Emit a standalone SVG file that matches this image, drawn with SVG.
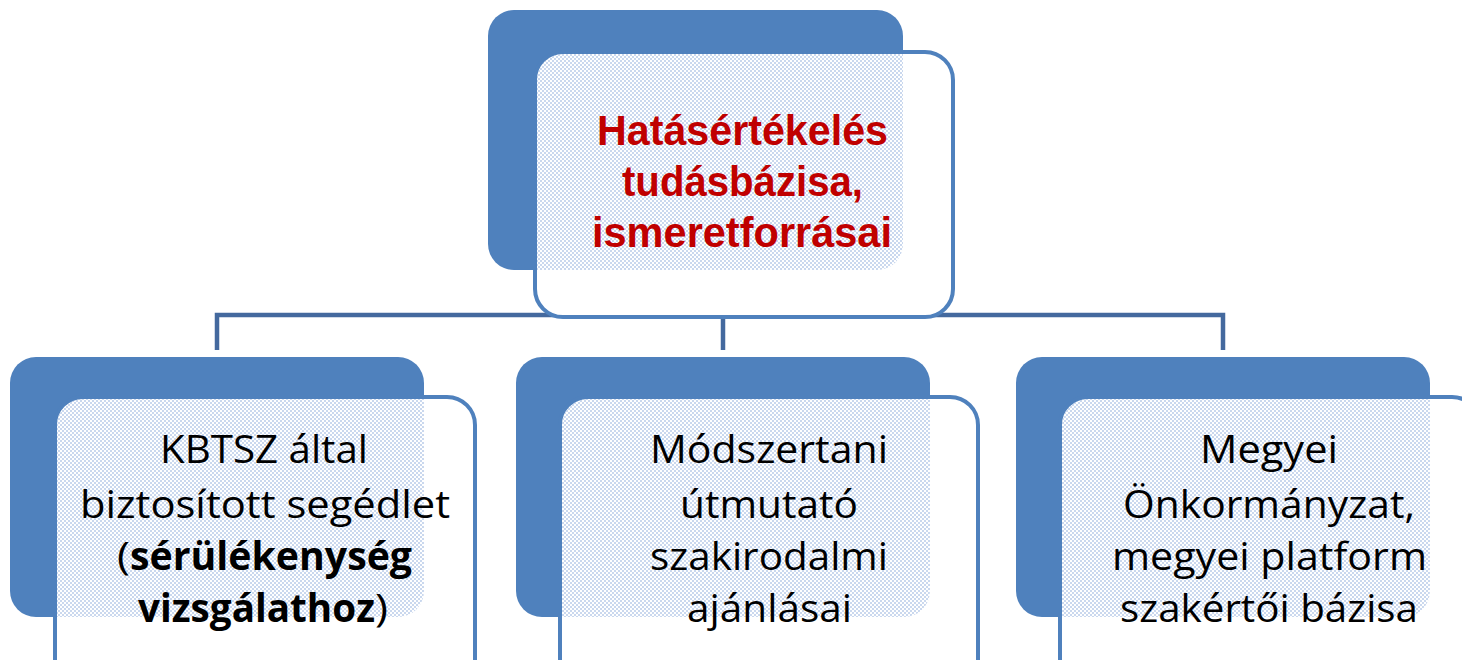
<svg xmlns="http://www.w3.org/2000/svg" width="1462" height="660" viewBox="0 0 1462 660">
<style>
.card{fill:#4f81bd}
.front{fill:#ffffff;stroke:#4f81bd;stroke-width:4}
.dots{fill:url(#dotpat)}
.conn{fill:none;stroke:#44699e;stroke-width:4.5}
.t{font-family:"Open Sans","Liberation Sans",Arial,sans-serif;font-size:39px;fill:#000000}
.b{font-weight:bold}
.title{font-family:"Liberation Sans",Arial,sans-serif;font-size:42px;font-weight:bold;fill:#c00000}
</style>
<defs>
<pattern id="dotpat" width="4" height="4" patternUnits="userSpaceOnUse">
<circle cx="1" cy="1" r="0.8" fill="#86a5d8"/>
<circle cx="3" cy="3" r="0.8" fill="#86a5d8"/>
</pattern>
<clipPath id="clipTop"><rect x="537" y="54" width="414" height="261" rx="26"/></clipPath>
<clipPath id="clipLeft"><rect x="57" y="399" width="416" height="296" rx="26"/></clipPath>
<clipPath id="clipMid"><rect x="562" y="399" width="414" height="296" rx="26"/></clipPath>
<clipPath id="clipRight"><rect x="1062" y="399" width="416" height="296" rx="26"/></clipPath>
</defs>

<g id="connectors">
<path class="conn" d="M217 350 V315 H1223 V350"/>
<path class="conn" d="M723 315 V350"/>
</g>

<g id="node-top">
<rect class="card" x="488" y="10" width="415" height="260" rx="26"/>
<rect class="front" x="535" y="52" width="418" height="265" rx="28"/>
<rect class="dots" x="488" y="10" width="415" height="260" rx="26" clip-path="url(#clipTop)"/>
<text class="title" x="742.5" y="145" text-anchor="middle" textLength="291" lengthAdjust="spacingAndGlyphs">Hatásértékelés</text>
<text class="title" x="742.5" y="196" text-anchor="middle" textLength="241" lengthAdjust="spacingAndGlyphs">tudásbázisa,</text>
<text class="title" x="742" y="247" text-anchor="middle" textLength="300" lengthAdjust="spacingAndGlyphs">ismeretforrásai</text>
</g>

<g id="node-left">
<rect class="card" x="10" y="357" width="414" height="260" rx="26"/>
<rect class="front" x="55" y="397" width="420" height="300" rx="28"/>
<rect class="dots" x="10" y="357" width="414" height="260" rx="26" clip-path="url(#clipLeft)"/>
<text class="t" x="264" y="463" text-anchor="middle" textLength="208" lengthAdjust="spacingAndGlyphs">KBTSZ által</text>
<text class="t" x="265" y="518" text-anchor="middle" textLength="370" lengthAdjust="spacingAndGlyphs">biztosított segédlet</text>
<text class="t" x="117" y="570" textLength="13" lengthAdjust="spacingAndGlyphs">(</text>
<text class="t b" x="130" y="570" textLength="282" lengthAdjust="spacingAndGlyphs">sérülékenység</text>
<text class="t b" x="138" y="622" textLength="237" lengthAdjust="spacingAndGlyphs">vizsgálathoz</text>
<text class="t" x="375" y="622" textLength="13" lengthAdjust="spacingAndGlyphs">)</text>
</g>

<g id="node-middle">
<rect class="card" x="516" y="357" width="414" height="260" rx="26"/>
<rect class="front" x="560" y="397" width="418" height="300" rx="28"/>
<rect class="dots" x="516" y="357" width="414" height="260" rx="26" clip-path="url(#clipMid)"/>
<text class="t" x="769" y="463" text-anchor="middle" textLength="238" lengthAdjust="spacingAndGlyphs">Módszertani</text>
<text class="t" x="769" y="518" text-anchor="middle" textLength="178" lengthAdjust="spacingAndGlyphs">útmutató</text>
<text class="t" x="769" y="570" text-anchor="middle" textLength="238" lengthAdjust="spacingAndGlyphs">szakirodalmi</text>
<text class="t" x="769.5" y="622" text-anchor="middle" textLength="165" lengthAdjust="spacingAndGlyphs">ajánlásai</text>
</g>

<g id="node-right">
<rect class="card" x="1016" y="357" width="414" height="260" rx="26"/>
<rect class="front" x="1060" y="397" width="420" height="300" rx="28"/>
<rect class="dots" x="1016" y="357" width="414" height="260" rx="26" clip-path="url(#clipRight)"/>
<text class="t" x="1269" y="463" text-anchor="middle" textLength="138" lengthAdjust="spacingAndGlyphs">Megyei</text>
<text class="t" x="1269" y="518" text-anchor="middle" textLength="292" lengthAdjust="spacingAndGlyphs">Önkormányzat,</text>
<text class="t" x="1269.5" y="570" text-anchor="middle" textLength="315" lengthAdjust="spacingAndGlyphs">megyei platform</text>
<text class="t" x="1269" y="622" text-anchor="middle" textLength="298" lengthAdjust="spacingAndGlyphs">szakértői bázisa</text>
</g>
</svg>
